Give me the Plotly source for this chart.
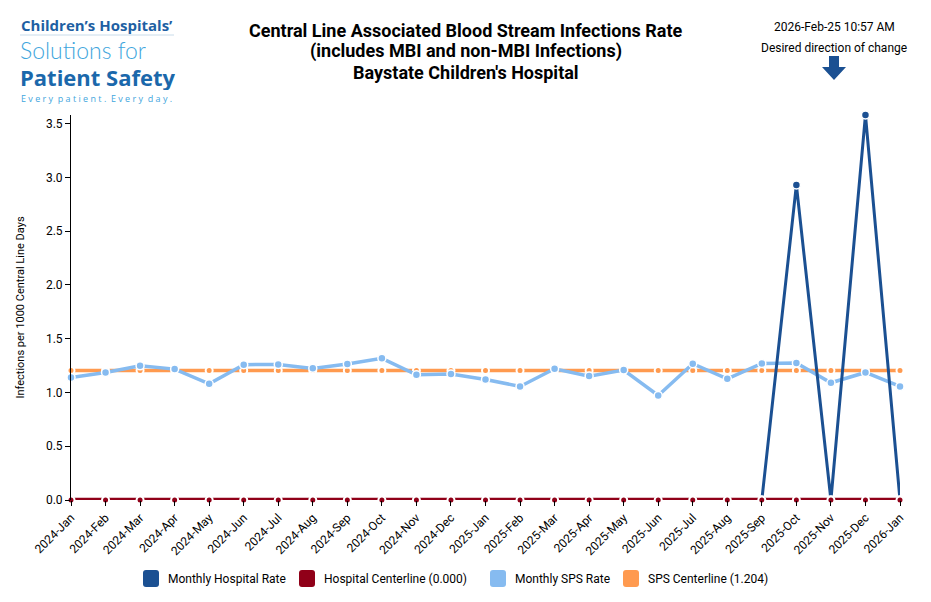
import plotly.graph_objects as go

months = ["2024-Jan","2024-Feb","2024-Mar","2024-Apr","2024-May","2024-Jun","2024-Jul","2024-Aug",
          "2024-Sep","2024-Oct","2024-Nov","2024-Dec","2025-Jan","2025-Feb","2025-Mar","2025-Apr",
          "2025-May","2025-Jun","2025-Jul","2025-Aug","2025-Sep","2025-Oct","2025-Nov","2025-Dec","2026-Jan"]
hospital_rate = [0,0,0,0,0,0,0,0,0,0,0,0,0,0,0,0,0,0,0,0,0,2.93,0,3.58,0]
sps_rate = [1.14,1.186,1.248,1.217,1.081,1.258,1.261,1.224,1.264,1.317,1.165,1.171,
            1.121,1.056,1.220,1.152,1.208,0.972,1.267,1.127,1.270,1.273,1.090,1.186,1.056]
hospital_center = 0.000
sps_center = 1.204
legend_names = ["Monthly Hospital Rate", "Hospital Centerline (0.000)",
                "Monthly SPS Rate", "SPS Centerline (1.204)"]
title_lines = ["Central Line Associated Blood Stream Infections Rate",
               "(includes MBI and non-MBI Infections)",
               "Baystate Children's Hospital"]

C_HOSP = "#1b5092"
C_HCL = "#900018"
C_SPS = "#86bbf0"
C_SCL = "#ff9a4f"
legend_colors = [C_HOSP, C_HCL, C_SPS, C_SCL]

FONT = "Roboto"
fig = go.Figure()

def mk(color, size, lw=1.5):
    return dict(color=color, size=size, line=dict(color="white", width=lw))

fig.add_trace(go.Scatter(x=months, y=[sps_center]*len(months), mode="lines+markers",
                         line=dict(color=C_SCL, width=3.5), marker=mk(C_SCL, 7, 2),
                         name=legend_names[3], showlegend=False, cliponaxis=False))
fig.add_trace(go.Scatter(x=months, y=sps_rate, mode="lines+markers",
                         line=dict(color=C_SPS, width=3.5), marker=mk(C_SPS, 8),
                         name=legend_names[2], showlegend=False, cliponaxis=False))
fig.add_trace(go.Scatter(x=months, y=hospital_rate, mode="lines+markers",
                         line=dict(color=C_HOSP, width=3), marker=mk(C_HOSP, 8),
                         name=legend_names[0], showlegend=False, cliponaxis=False))
fig.add_trace(go.Scatter(x=months, y=[hospital_center]*len(months), mode="lines+markers",
                         line=dict(color=C_HCL, width=4.5), marker=mk(C_HCL, 7, 2),
                         name=legend_names[1], showlegend=False, cliponaxis=False))

fig.update_layout(
    width=931, height=602,
    margin=dict(l=71, r=31, t=115, b=102),
    paper_bgcolor="white", plot_bgcolor="white",
    font=dict(family=FONT, size=12, color="black"),
    showlegend=False,
    xaxis=dict(type="category", range=[0, 24], showgrid=False, zeroline=False,
               showline=False, ticks="outside", ticklen=5, tickcolor="black",
               tickangle=-45, tickfont=dict(size=12)),
    yaxis=dict(range=[0, 3.58], showgrid=False, zeroline=False, showline=True,
               linecolor="black", linewidth=1, ticks="outside", ticklen=5,
               tickcolor="black", dtick=0.5, tickformat=".1f",
               title=dict(text="Infections per 1000 Central Line Days", font=dict(size=11), standoff=19),
               tickfont=dict(size=12)),
)

def px2x(px): return (px - 71) / 829
def py2y(py): return (500 - py) / 385

# Title lines
for line, ty in zip(title_lines, [30, 51, 73]):
    fig.add_annotation(text=f"<b>{line}</b>", xref="paper", yref="paper",
                       x=px2x(466), y=py2y(ty), xanchor="center", yanchor="middle", showarrow=False,
                       font=dict(family=FONT, size=18, color="black"))

# Logo texts
fig.add_annotation(text="<b>Children\u2019s Hospitals\u2019</b>", xref="paper", yref="paper",
                   x=px2x(19), y=py2y(25), xanchor="left", yanchor="middle", showarrow=False,
                   font=dict(family="Open Sans", size=15, color="#1e5fa3"))
fig.add_shape(type="line", xref="paper", yref="paper", x0=px2x(20), x1=px2x(174),
              y0=py2y(35), y1=py2y(35), line=dict(color="#c9dcea", width=1))
fig.add_annotation(text="Solutions for", xref="paper", yref="paper",
                   x=px2x(18), y=py2y(50), xanchor="left", yanchor="middle", showarrow=False,
                   height=22, valign="middle",
                   font=dict(family="Lato", size=23, color="#3fa6dd", weight=300))
fig.add_annotation(text="<b>Patient Safety</b>", xref="paper", yref="paper",
                   x=px2x(18), y=py2y(77), xanchor="left", yanchor="middle", showarrow=False,
                   height=26, valign="middle",
                   font=dict(family="Open Sans", size=22, color="#1b68ab"))
fig.add_annotation(text="E v e r y  p a t i e n t .  E v e r y  d a y .", xref="paper", yref="paper",
                   x=px2x(19), y=py2y(98), xanchor="left", yanchor="middle", showarrow=False,
                   font=dict(family="Open Sans", size=9, color="#3fa6dd"))

# Right header
fig.add_annotation(text="2026-Feb-25 10:57 AM", xref="paper", yref="paper",
                   x=px2x(834), y=py2y(27), xanchor="center", yanchor="middle", showarrow=False,
                   font=dict(family=FONT, size=12, color="black"))
fig.add_annotation(text="Desired direction of change", xref="paper", yref="paper",
                   x=px2x(834), y=py2y(48), xanchor="center", yanchor="middle", showarrow=False,
                   font=dict(family=FONT, size=12, color="black"))
ax = [829, 839, 839, 846, 834, 822, 829]
ay = [56, 56, 67, 67, 80, 67, 67]
path = "M " + " L ".join(f"{px2x(a)},{py2y(b)}" for a, b in zip(ax, ay)) + " Z"
fig.add_shape(type="path", xref="paper", yref="paper", path=path,
              fillcolor="#1b5092", line=dict(width=0))

# Manual legend (rounded squares + text)
sq_left = [143, 299, 490, 623]
for name, col, sx in zip(legend_names, legend_colors, sq_left):
    x0, x1, y0, y1, r = sx, sx + 16, 570, 587, 3
    pts = (f"M {px2x(x0+r)},{py2y(y0)} L {px2x(x1-r)},{py2y(y0)} Q {px2x(x1)},{py2y(y0)} {px2x(x1)},{py2y(y0+r)} "
           f"L {px2x(x1)},{py2y(y1-r)} Q {px2x(x1)},{py2y(y1)} {px2x(x1-r)},{py2y(y1)} "
           f"L {px2x(x0+r)},{py2y(y1)} Q {px2x(x0)},{py2y(y1)} {px2x(x0)},{py2y(y1-r)} "
           f"L {px2x(x0)},{py2y(y0+r)} Q {px2x(x0)},{py2y(y0)} {px2x(x0+r)},{py2y(y0)} Z")
    fig.add_shape(type="path", xref="paper", yref="paper", path=pts,
                  fillcolor=col, line=dict(width=0))
    fig.add_annotation(text=name, xref="paper", yref="paper", x=px2x(sx + 23), y=py2y(578.5),
                       xanchor="left", yanchor="middle", showarrow=False,
                       font=dict(family=FONT, size=12, color="black"))

fig.write_html("out.html", config={"displayModeBar": False},
               post_script="document.body.style.margin='0px';")
